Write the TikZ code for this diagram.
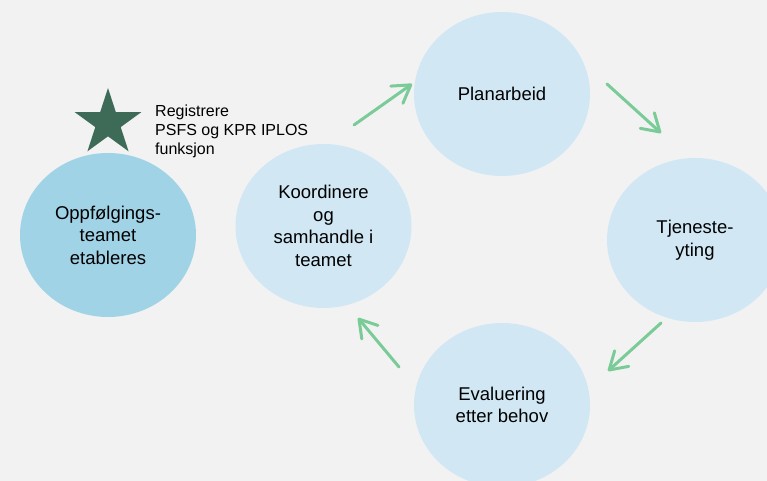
\documentclass[tikz,border=0pt]{standalone}
\usepackage{fontspec}
\setmainfont{Liberation Sans}
\usetikzlibrary{shapes.geometric,arrows.meta}

\definecolor{bg}{HTML}{F2F2F2}
\definecolor{lightblue}{HTML}{D1E8F4}
\definecolor{midblue}{HTML}{A1D3E7}
\definecolor{arrowgreen}{HTML}{7ACB97}
\definecolor{stargreen}{HTML}{3D6B58}

\begin{document}
\begin{tikzpicture}[x=1pt, y=1pt,
  phase/.style={ellipse, fill=lightblue, minimum width=176pt, minimum height=164pt,
    inner sep=0pt, align=center, font=\fontsize{18.5}{22.5}\selectfont},
  flow/.style={draw=arrowgreen, line width=3pt, line cap=round,
    -{Straight Barb[length=17pt, width=21pt, line join=round, line cap=round]}}]
\fill[bg] (0,0) rectangle (767,481);
\clip (0,0) rectangle (767,481);

% Start
\node[phase, fill=midblue] (start) at (108,246) {Oppfølgings-\\teamet\\etableres};
\node[star, star points=5, star point ratio=2.618, minimum size=70pt, inner sep=0pt,
  fill=stargreen] (mark) at (108,358) {};
\node[anchor=west, align=left, inner sep=0pt, font=\fontsize{16}{19}\selectfont] (note)
  at (155,350) {Registrere\\PSFS og KPR IPLOS\\funksjon};

% Cycle
\node[phase] (koord) at (323.5,255) {Koordinere\\og\\samhandle i\\teamet};
\node[phase] (plan) at (502,387) {Planarbeid};
\node[phase] (tjen) at (695,241) {Tjeneste-\\yting};
\node[phase] (eval) at (502,76) {Evaluering\\etter behov};

% Arrow ends
\coordinate (a1) at (354,356);
\coordinate (b1) at (412,397);
\coordinate (a2) at (607,397);
\coordinate (b2) at (661,348);
\coordinate (a3) at (661,158);
\coordinate (b3) at (608,110);
\coordinate (a4) at (399,114);
\coordinate (b4) at (358,163);

\draw[flow] (a1) -- (b1);
\draw[flow] (a2) -- (b2);
\draw[flow] (a3) -- (b3);
\draw[flow] (a4) -- (b4);
\end{tikzpicture}
\end{document}
